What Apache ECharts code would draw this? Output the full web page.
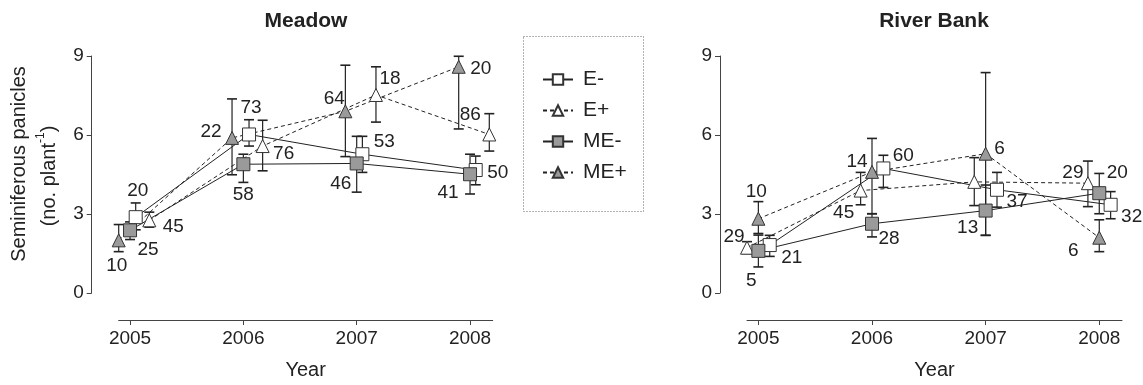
<!DOCTYPE html>
<html><head><meta charset="utf-8">
<script src="https://cdn.jsdelivr.net/npm/echarts@6/dist/echarts.min.js"></script>
<style>html,body{margin:0;padding:0;background:#fff}#c{width:1143px;height:385px}</style>
</head><body><div id="c"></div>
<script>
// ---------- data ----------
const years = [2005, 2006, 2007, 2008];
const seriesNames = ['E-', 'E+', 'ME-', 'ME+'];
const panelTitles = ['Meadow', 'River Bank'];
const yTicks = [0, 3, 6, 9];

// Meadow: means, lower and upper error limits, sample sizes
const meadowEMinus      = [2.88, 6.02, 5.27, 4.67];
const meadowEMinusLo    = [2.40, 5.58, 4.58, 4.11];
const meadowEMinusHi    = [3.42, 6.58, 5.95, 5.20];
const meadowEMinusN     = [20, 73, 53, 50];
const meadowEPlus       = [2.76, 5.58, 7.52, 6.02];
const meadowEPlusLo     = [2.50, 4.64, 6.49, 5.39];
const meadowEPlusHi     = [3.07, 6.56, 8.59, 6.81];
const meadowEPlusN      = [45, 76, 18, 86];
const meadowMEMinus     = [2.38, 4.89, 4.92, 4.51];
const meadowMEMinusLo   = [2.03, 4.20, 3.83, 3.76];
const meadowMEMinusHi   = [2.70, 5.27, 5.95, 5.27];
const meadowMEMinusN    = [25, 58, 46, 41];
const meadowMEPlus      = [2.00, 5.89, 6.90, 8.59];
const meadowMEPlusLo    = [1.57, 4.49, 5.18, 6.23];
const meadowMEPlusHi    = [2.60, 7.37, 8.65, 8.99];
const meadowMEPlusN     = [10, 22, 64, 20];

// River Bank
const riverEMinus       = [1.82, 4.73, 3.92, 3.35];
const riverEMinusLo     = [1.39, 4.01, 3.26, 2.82];
const riverEMinusHi     = [2.19, 5.23, 4.58, 3.85];
const riverEMinusN      = [21, 60, 37, 32];
const riverEPlus        = [1.72, 3.89, 4.22, 4.17];
const riverEPlusLo      = [1.50, 3.35, 3.32, 3.28];
const riverEPlusHi      = [1.95, 4.58, 5.14, 5.01];
const riverEPlusN       = [29, 45, null, 29];
const riverMEMinus      = [1.60, 2.63, 3.13, 3.79];
const riverMEMinusLo    = [0.99, 2.13, 2.19, 3.01];
const riverMEMinusHi    = [2.20, 3.01, 4.10, 4.54];
const riverMEMinusN     = [5, 28, 13, 20];
const riverMEPlus       = [2.82, 4.60, 5.29, 2.10];
const riverMEPlusLo     = [2.26, 3.01, 2.19, 1.57];
const riverMEPlusHi     = [3.47, 5.87, 8.37, 2.78];
const riverMEPlusN      = [10, 14, 6, 6];

// ---------- layout / style (not data) ----------
const FONT = "'Liberation Sans', Arial, Helvetica, sans-serif";
const INK = '#222';
const GRAY = '#9a9a9a';
const dodge = [
  {'E-': 0.05, 'E+': 0.17, 'ME-': 0, 'ME+': -0.10},
  {'E-': 0.10, 'E+': -0.10, 'ME-': 0, 'ME+': 0}
];
const labelOffsets = [
  {'E-': [[2,-26],[2,-27],[22,-12],[22,3]], 'E+': [[24,6],[21,8],[14,-16],[-19,-20]],
   'ME-': [[18,19],[0,31],[-16,20],[-22,19]], 'ME+': [[-2,25],[-21,-6],[-11,-13],[22,2]]},
  {'E-': [[22,13],[20,-13],[20,12],[21,12]], 'E+': [[-13,-11],[-17,22],[0,0],[-15,-10]],
   'ME-': [[-7,30],[17,15],[-18,17],[18,-20]], 'ME+': [[-2,-27],[-15,-10],[14,-5],[-26,13]]}
];
const markerStyle = {
  'E-':  {symbol: 'rect', fill: '#fff', dashed: false},
  'E+':  {symbol: 'triangle', fill: '#fff', dashed: true},
  'ME-': {symbol: 'rect', fill: GRAY, dashed: false},
  'ME+': {symbol: 'triangle', fill: GRAY, dashed: true}
};
const panels = [
  {'E-': [meadowEMinus, meadowEMinusLo, meadowEMinusHi, meadowEMinusN],
   'E+': [meadowEPlus, meadowEPlusLo, meadowEPlusHi, meadowEPlusN],
   'ME-': [meadowMEMinus, meadowMEMinusLo, meadowMEMinusHi, meadowMEMinusN],
   'ME+': [meadowMEPlus, meadowMEPlusLo, meadowMEPlusHi, meadowMEPlusN]},
  {'E-': [riverEMinus, riverEMinusLo, riverEMinusHi, riverEMinusN],
   'E+': [riverEPlus, riverEPlusLo, riverEPlusHi, riverEPlusN],
   'ME-': [riverMEMinus, riverMEMinusLo, riverMEMinusHi, riverMEMinusN],
   'ME+': [riverMEPlus, riverMEPlusLo, riverMEPlusHi, riverMEPlusN]}
];
const grids = [
  {left: 118.7, top: 56, width: 374, height: 239},
  {left: 747, top: 56, width: 375, height: 239}
];

const xAxes = grids.map((g, i) => ({
  type: 'value', gridIndex: i, min: 2004.9, max: 2008.2, offset: 27,
  axisLine: {show: true, onZero: false, lineStyle: {color: '#444', width: 1}},
  axisTick: {show: true, length: 5, customValues: years, lineStyle: {color: '#444'}},
  axisLabel: {customValues: years, formatter: v => String(v), fontSize: 19, color: INK, fontFamily: FONT, margin: 9},
  splitLine: {show: false},
  name: 'Year', nameLocation: 'middle', nameGap: 40,
  nameTextStyle: {fontSize: 20, color: INK, fontFamily: FONT}
}));
const yAxes = grids.map((g, i) => ({
  type: 'value', gridIndex: i, min: 0, max: 9, interval: 3, offset: 27,
  axisLine: {show: true, onZero: false, lineStyle: {color: '#444', width: 1}},
  axisTick: {show: true, length: 5, lineStyle: {color: '#444'}},
  axisLabel: {fontSize: 19, color: INK, fontFamily: FONT, margin: 8, customValues: yTicks},
  splitLine: {show: false}
}));

const series = [];
panels.forEach((panel, p) => {
  seriesNames.forEach(name => {
    const [mean, lo, hi, n] = panel[name];
    const dx = dodge[p][name];
    series.push({
      type: 'custom', xAxisIndex: p, yAxisIndex: p, z: 1, silent: true,
      name: name + '_err', legendHoverLink: false,
      data: years.map((y, k) => [y + dx, lo[k], hi[k]]),
      encode: {x: 0, y: [1, 2]},
      renderItem: (params, api) => {
        const x = api.value(0);
        const a = api.coord([x, api.value(2)]);
        const b = api.coord([x, api.value(1)]);
        const w = 5;
        const st = {stroke: INK, lineWidth: 1.2};
        const cap = {stroke: INK, lineWidth: 1.6};
        return {type: 'group', children: [
          {type: 'line', shape: {x1: a[0], y1: a[1], x2: b[0], y2: b[1]}, style: st},
          {type: 'line', shape: {x1: a[0]-w, y1: a[1], x2: a[0]+w, y2: a[1]}, style: cap},
          {type: 'line', shape: {x1: b[0]-w, y1: b[1], x2: b[0]+w, y2: b[1]}, style: cap}
        ]};
      }
    });
    const ms = markerStyle[name];
    series.push({
      type: 'line', name: name, xAxisIndex: p, yAxisIndex: p, z: 3,
      symbol: ms.symbol, symbolSize: 13, showAllSymbol: true,
      lineStyle: {color: INK, width: 1, type: ms.dashed ? [4, 3] : 'solid'},
      itemStyle: {color: ms.fill, borderColor: '#333', borderWidth: 1},
      emphasis: {disabled: true},
      data: years.map((y, k) => ({
        value: [y + dx, mean[k]],
        label: {
          show: n[k] != null, position: 'inside', offset: labelOffsets[p][name][k],
          formatter: () => String(n[k]), fontSize: 19, color: INK, fontFamily: FONT
        }
      }))
    });
  });
});

const graphic = [
  {type: 'text', x: 306, y: 21, style: {text: panelTitles[0], font: "bold 21px " + FONT, fill: INK, textAlign: 'center', textVerticalAlign: 'middle'}},
  {type: 'text', x: 934, y: 21, style: {text: panelTitles[1], font: "bold 21px " + FONT, fill: INK, textAlign: 'center', textVerticalAlign: 'middle'}},
  {type: 'text', x: 19, y: 164, rotation: Math.PI / 2,
   style: {text: 'Seminiferous panicles', font: "20px " + FONT, fill: INK, textAlign: 'center', textVerticalAlign: 'middle'}},
  {type: 'text', x: 47, y: 176, rotation: Math.PI / 2,
   style: {text: '{a|(no. plant}{s|-1}{a|)}', fill: INK, textAlign: 'center', textVerticalAlign: 'middle',
     rich: {a: {fontSize: 20, fontFamily: FONT, lineHeight: 24, verticalAlign: 'bottom', fill: INK},
            s: {fontSize: 12, fontFamily: FONT, lineHeight: 24, verticalAlign: 'top', fill: INK}}}},
  {type: 'rect', shape: {x: 523.5, y: 36.5, width: 120, height: 175},
   style: {fill: 'none', stroke: '#666', lineWidth: 1, lineDash: [1, 2]}}
];

const chart = echarts.init(document.getElementById('c'), null, {renderer: 'canvas'});
chart.setOption({
  animation: false,
  backgroundColor: '#fff',
  textStyle: {fontFamily: FONT},
  grid: grids,
  xAxis: xAxes,
  yAxis: yAxes,
  legend: {
    orient: 'vertical', left: 537, top: 64, itemWidth: 30, itemHeight: 13, itemGap: 10,
    selectedMode: false, data: seriesNames,
    textStyle: {fontSize: 21, color: INK, fontFamily: FONT, lineHeight: 21, padding: [0, 0, 0, 5]}
  },
  graphic: graphic,
  series: series
});
</script></body></html>
